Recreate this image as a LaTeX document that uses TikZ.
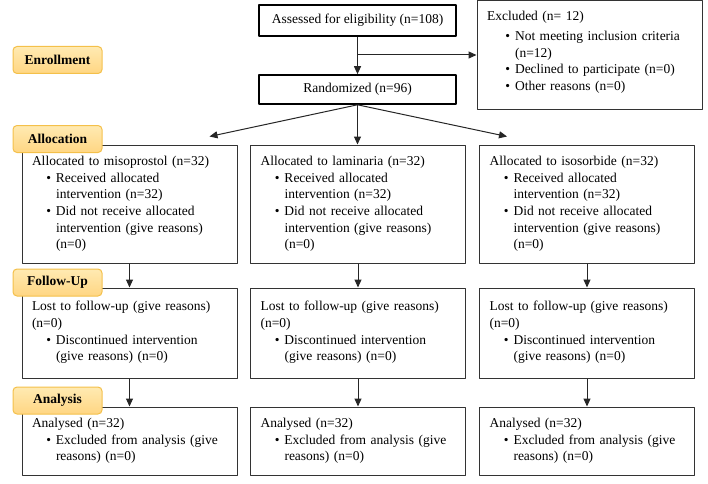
\documentclass[tikz,border=0pt]{standalone}
\usepackage{fontspec}
\setmainfont{Liberation Serif}
\usetikzlibrary{arrows.meta}
\definecolor{phasetop}{HTML}{FFEAB2}
\definecolor{phasebot}{HTML}{FFD683}
\definecolor{phaseline}{HTML}{F4C04A}
% bullet line with hanging indent
\newcommand{\bitem}[1][24pt]{\par\hangindent=#1\hangafter=0\noindent\llap{\textbullet\hspace{5pt}}}
\begin{document}
\begin{tikzpicture}[x=1pt, y=1pt, line join=round, font=\fontsize{13.5}{16.6}\selectfont,
		>={Triangle[length=8pt,width=7pt]},
		mainbox/.style={draw, line width=1.6pt, minimum width=197pt, minimum height=31pt, inner sep=0pt},
		box/.style={draw=black!80, line width=1pt, align=left, inner xsep=10pt, inner ysep=0pt, text width=195pt},
		phase/.style={draw=phaseline, line width=1pt, rounded corners=4pt, top color=phasetop, bottom color=phasebot,
			minimum width=89pt, minimum height=27pt, inner sep=0pt, font=\fontsize{13.5}{16.6}\selectfont\bfseries},
		conn/.style={->, line width=1pt, black!85}]
	\useasboundingbox (0,0) rectangle (708,483);
	% enrollment
	\node[mainbox] (assess) at (357.5,462.5) {Assessed for eligibility (n=108)};
	\node[mainbox, minimum height=29pt] (rand) at (357.5,393.5) {Randomized (n=96)};
	\node[box, text width=205pt, minimum height=108pt] (excl) at (589.5,428) {Excluded (n= 12)\par\vspace{3pt}%
		\bitem[28pt]Not meeting inclusion criteria\newline (n=12)\bitem[28pt]Declined to participate (n=0)%
		\bitem[28pt]Other reasons (n=0)\rule[-8pt]{0pt}{1pt}\par};
	% allocation
	\node[box, minimum height=118pt] (allocL) at (129.5,279) {Allocated to misoprostol (n=32)\bitem Received allocated\newline intervention (n=32)\bitem Did not receive allocated\newline intervention (give reasons)\newline (n=0)\par};
	\node[box, minimum height=118pt] (allocM) at (358,279) {Allocated to laminaria (n=32)\bitem Received allocated\newline intervention (n=32)\bitem Did not receive allocated\newline intervention (give reasons)\newline (n=0)\par};
	\node[box, minimum height=118pt] (allocR) at (587,279) {Allocated to isosorbide (n=32)\bitem Received allocated\newline intervention (n=32)\bitem Did not receive allocated\newline intervention (give reasons)\newline (n=0)\par};
	% follow-up and analysis
	\foreach \c/\x in {L/129.5, M/358, R/587} {
		\node[box, minimum height=90pt] (follow\c) at (\x,150) {Lost to follow-up (give reasons)\newline (n=0)\bitem Discontinued intervention\newline (give reasons) (n=0)\rule[-4pt]{0pt}{1pt}\par};
		\node[box, minimum height=68pt] (analys\c) at (\x,42) {Analysed (n=32)\bitem Excluded from analysis (give\newline reasons) (n=0)\par};
	}
	% connectors
	\draw[conn] (assess) -- (rand);
	\draw[conn] (assess.south |- excl.west) -- (excl.west);
	\draw[conn] (rand.south) -- ([xshift=80pt, yshift=8pt]allocL.north);
	\draw[conn] (rand.south) -- (rand.south |- allocM.north);
	\draw[conn] (rand.south) -- ([xshift=-80pt, yshift=8pt]allocR.north);
	\foreach \c in {L,M,R} {
		\draw[conn] (alloc\c) -- (follow\c);
		\draw[conn] (follow\c) -- (analys\c);
	}
	% phase labels
	\node[phase] (enrol) at (57.5,423) {Enrollment};
	\node[phase] (alloc) at (57.5,344) {Allocation};
	\node[phase] (fup) at (57.5,200.5) {Follow-Up};
	\node[phase] (anal) at (57.5,82.5) {Analysis};
\end{tikzpicture}
\end{document}
